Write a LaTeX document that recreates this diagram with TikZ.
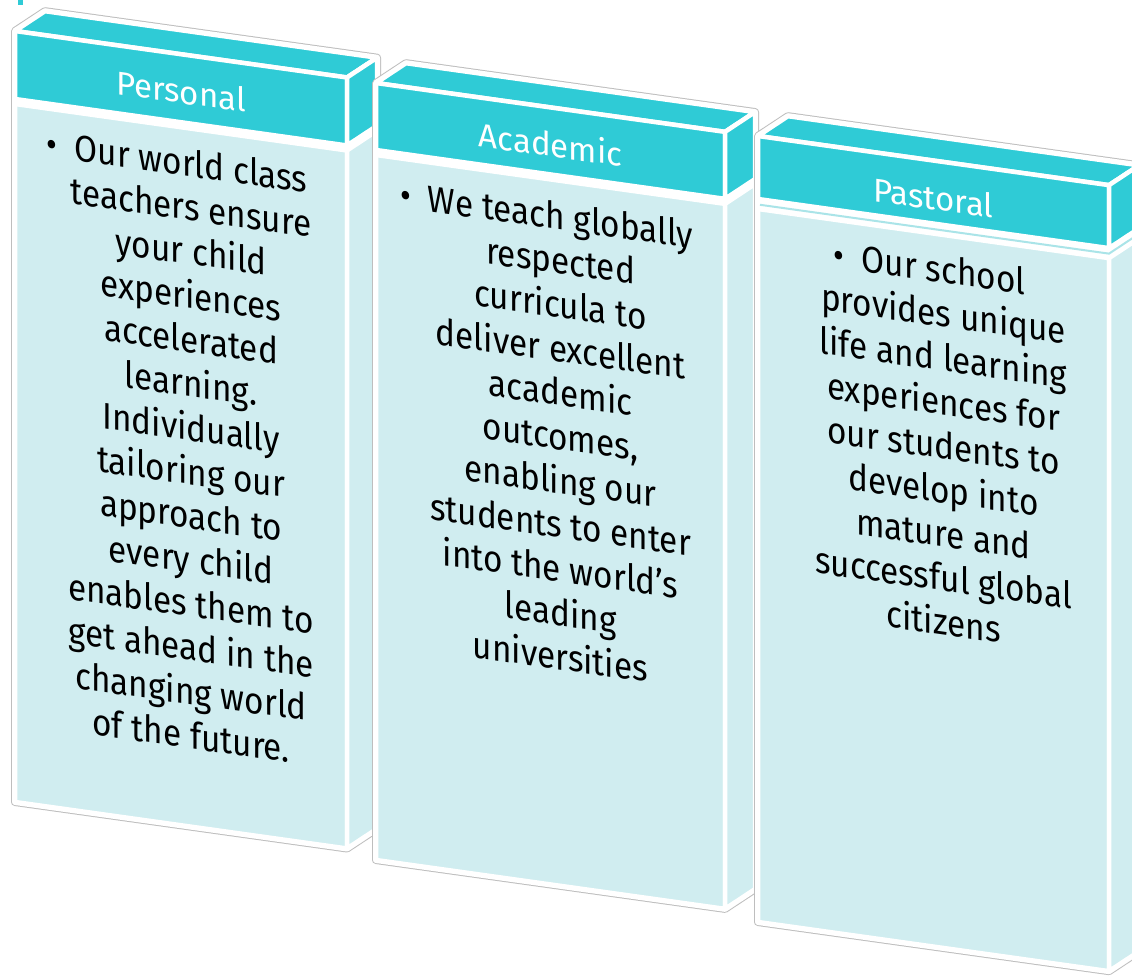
\documentclass[tikz,border=0pt]{standalone}
\usepackage{fontspec}
\setmainfont{Fira Sans}
\newfontfamily\headfont{Fira Sans}
\newfontfamily\bodyfont{Fira Sans}[FakeStretch=0.9]

\definecolor{hdr}{RGB}{47,203,214}
\definecolor{bdy}{RGB}{208,237,240}
\definecolor{rim}{RGB}{190,190,190}
\definecolor{seam}{RGB}{170,228,232}

\tikzset{
  boxface/.style={draw=white, line width=4.5pt, line join=round},
  hdrface/.style={boxface, fill=hdr},
  bdyface/.style={boxface, fill=bdy},
  halorim/.style={draw=rim, line width=8pt, line join=round},
  halofill/.style={fill=white, draw=white, line width=6pt, line join=round},
  hdrtext/.style={text=white, font=\headfont\fontsize{33}{40}\selectfont, inner sep=0pt, anchor=base},
  bodytext/.style={text=black, font=\bodyfont\fontsize{37}{44}\selectfont, align=center, inner sep=0pt, anchor=north},
}

% #1,#2 front corner; #3 width; #4 header height; #5 body top; #6 body bottom;
% #7 name; #8 title; #9 body text
\newcommand\slab[9]{%
\begin{scope}[shift={(#1,#2)}, cm={1,-0.14,0,1,(0,0)}]
  \path[halorim] (0,0) -- (30,-24) -- (#3+30,-24) -- (#3+30,#6-24) -- (#3,#6) -- (0,#6) -- cycle;
  \path[halofill] (0,0) -- (30,-24) -- (#3+30,-24) -- (#3+30,#6-24) -- (#3,#6) -- (0,#6) -- cycle;
  % header block
  \path[hdrface] (0,0) -- (30,-24) -- (#3+30,-24) -- (#3,0) -- cycle;
  \path[hdrface] (0,0) rectangle (#3,#4);
  \path[hdrface] (#3,0) -- (#3+30,-24) -- (#3+30,#4-24) -- (#3,#4) -- cycle;
  % body block
  \path[bdyface] (0,#5) rectangle (#3,#6);
  \path[bdyface] (#3,#5) -- (#3+30,#5-24) -- (#3+30,#6-24) -- (#3,#6) -- cycle;
  \node[hdrtext, transform shape] (#7-title) at (#3/2,49) {#8};
  \node[bodytext, transform shape] (#7-text) at (#3/2+10,93) {#9};
\end{scope}}

\begin{document}
\begin{tikzpicture}[x=1pt, y=-1pt]
\clip (0,0) rectangle (1132,977);
\fill[white] (0,0) rectangle (1132,977);

% small mark at the top edge
\fill[hdr] (18,0) rectangle (23,5);

\slab{15}{31}{332}{68}{73}{771}{personal}{Personal}{%
\llap{\textbullet\hspace{17pt}}Our world class\\teachers ensure\\your child\\experiences\\accelerated\\learning.\\Individually\\tailoring our\\approach to\\every child\\enables them to\\get ahead in the\\changing world\\of the future.}

\slab{376}{83}{349}{67}{72}{777}{academic}{Academic}{%
\llap{\textbullet\hspace{17pt}}We teach globally\\respected\\curricula to\\deliver excellent\\academic\\outcomes,\\enabling our\\students to enter\\into the world’s\\leading\\universities}

\slab{758}{136}{351}{63}{73}{786}{pastoral}{Pastoral}{%
\llap{\textbullet\hspace{17pt}}Our school\\provides unique\\life and learning\\experiences for\\our students to\\develop into\\mature and\\successful global\\citizens}

% thin seam under the Pastoral header
\begin{scope}[shift={(758,136)}, cm={1,-0.14,0,1,(0,0)}]
  \draw[seam, line width=2pt] (2,68.5) -- (351,68.5) -- (381,44.5);
\end{scope}
\end{tikzpicture}
\end{document}
